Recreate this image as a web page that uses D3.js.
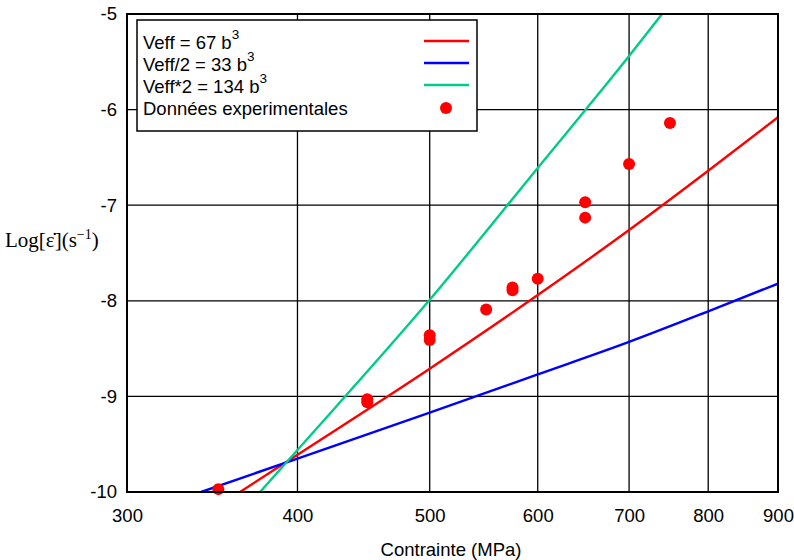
<!DOCTYPE html>
<html><head><meta charset="utf-8">
<script src="https://cdn.jsdelivr.net/npm/d3@7"></script>
<style>body{margin:0;background:#fff}svg{display:block}</style>
</head><body>
<script>
// Data
const xTicks = [300, 400, 500, 600, 700, 800, 900];
const yTicks = [-5, -6, -7, -8, -9, -10];
const expStress = [350, 450, 450, 500, 500, 550, 575, 575, 600, 650, 650, 700, 750];
const expLogRate = [-9.97, -9.03, -9.06, -8.36, -8.41, -8.09, -7.86, -7.89, -7.77, -6.97, -7.13, -6.57, -6.14];
const redStress = [363, 400, 500, 600, 700, 800, 900];
const redLog = [-10, -9.61, -8.71, -7.94, -7.26, -6.64, -6.08];
const blueStress = [340, 400, 500, 600, 700, 800, 900];
const blueLog = [-10, -9.65, -9.17, -8.77, -8.43, -8.11, -7.82];
const greenStress = [375.5, 400, 500, 600, 700, 740];
const greenLog = [-10, -9.56, -7.99, -6.61, -5.44, -5];
const legendLabels = [["Veff = 67 b", "3"], ["Veff/2 = 33 b", "3"], ["Veff*2 = 134 b", "3"], ["Données experimentales", ""]];
const colors = ["#ff0000", "#0000ff", "#00cc88"];

const W = 794, H = 560;
const svg = d3.select("body").append("svg").attr("width", W).attr("height", H);
const L = 127, R = 778, T = 14, B = 492;
const x = d3.scaleLog().domain([300, 900]).range([L, R]);
const y = d3.scaleLinear().domain([-10, -5]).range([B, T]);
const font = "Liberation Sans, Arial, sans-serif";

svg.append("defs").append("clipPath").attr("id", "clip")
  .append("rect").attr("x", L).attr("y", T).attr("width", R - L).attr("height", B - T);

// grid
const g = svg.append("g");
g.selectAll("line.vx").data(xTicks.slice(1, -1)).enter().append("line")
  .attr("x1", d => x(d)).attr("x2", d => x(d)).attr("y1", T).attr("y2", B)
  .attr("stroke", "#000").attr("stroke-width", 1.3);
g.selectAll("line.hy").data(yTicks.slice(1, -1)).enter().append("line")
  .attr("x1", L).attr("x2", R).attr("y1", d => y(d)).attr("y2", d => y(d))
  .attr("stroke", "#000").attr("stroke-width", 1.3);

// axes via d3
const xAxis = d3.axisBottom(x).tickValues(xTicks).tickFormat(d3.format("d")).tickSize(0).tickPadding(17);
const yAxis = d3.axisLeft(y).tickValues(yTicks).tickFormat(d => d3.format("d")(d).replace("−", "-")).tickSize(0).tickPadding(10);
const gx = svg.append("g").attr("transform", `translate(0,${B})`).call(xAxis);
const gy = svg.append("g").attr("transform", `translate(${L},0)`).call(yAxis);
[gx, gy].forEach(a => {
  a.select(".domain").remove();
  a.selectAll("text").attr("font-family", font).attr("font-size", 18.5).attr("fill", "#000");
});

// curves
const line = d3.line().x(d => x(d[0])).y(d => y(d[1])).curve(d3.curveMonotoneX);
const series = [[redStress, redLog], [blueStress, blueLog], [greenStress, greenLog]];
const cg = svg.append("g").attr("clip-path", "url(#clip)");
series.forEach((s, i) => {
  cg.append("path").datum(d3.zip(s[0], s[1])).attr("d", line)
    .attr("fill", "none").attr("stroke", colors[i]).attr("stroke-width", 2.4);
});

// points
svg.append("g").selectAll("circle").data(d3.zip(expStress, expLogRate)).enter().append("circle")
  .attr("cx", d => x(d[0])).attr("cy", d => y(d[1])).attr("r", 6).attr("fill", "#ff0000");

// frame
svg.append("rect").attr("x", L).attr("y", T).attr("width", R - L).attr("height", B - T)
  .attr("fill", "none").attr("stroke", "#000").attr("stroke-width", 2);

// legend
const lg = svg.append("g");
lg.append("rect").attr("x", 137).attr("y", 20).attr("width", 340).attr("height", 111)
  .attr("fill", "#fff").attr("stroke", "#000").attr("stroke-width", 1.5);
legendLabels.forEach((lab, i) => {
  const yy = 49 + i * 22;
  const t = lg.append("text").attr("x", 143).attr("y", yy).attr("font-family", font).attr("font-size", 18.5).attr("fill", "#000");
  t.append("tspan").text(lab[0]);
  if (lab[1]) t.append("tspan").attr("dy", -10).attr("font-size", 13.5).text(lab[1]);
  if (i < 3) {
    lg.append("line").attr("x1", 424).attr("x2", 469).attr("y1", yy - 8).attr("y2", yy - 8)
      .attr("stroke", colors[i]).attr("stroke-width", 2.4);
  } else {
    lg.append("circle").attr("cx", 446).attr("cy", yy - 7).attr("r", 6).attr("fill", "#ff0000");
  }
});

// axis titles
svg.append("text").attr("x", 451).attr("y", 556).attr("text-anchor", "middle")
  .attr("font-family", font).attr("font-size", 18.5).text("Contrainte (MPa)");
const yl = svg.append("text").attr("x", 5).attr("y", 247)
  .attr("font-family", "Liberation Serif, Times New Roman, serif").attr("font-size", 21).attr("fill", "#000");
yl.append("tspan").text("Log[ε̇](s");
yl.append("tspan").attr("dy", -8).attr("font-size", 14).text("−1");
yl.append("tspan").attr("dy", 8).text(")");
</script>
</body></html>
